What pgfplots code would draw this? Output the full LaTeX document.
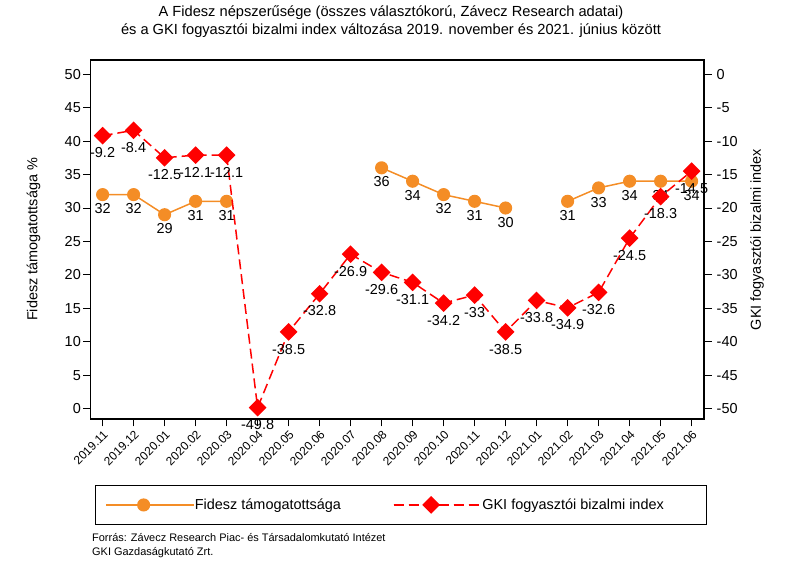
\documentclass[border=0pt]{standalone}
\usepackage{pgfplots}
\usepackage{pgfplotstable}
\pgfplotsset{compat=1.18}
\usepackage{fontspec}
\setmainfont{Liberation Sans}
\definecolor{fidor}{RGB}{244,141,38}
\definecolor{gkired}{RGB}{255,0,0}

\pgfplotstableread{
x y lab
0 32 32
1 32 32
2 29 29
3 31 31
4 31 31
5 nan x
6 nan x
7 nan x
8 nan x
9 36 36
10 34 34
11 32 32
12 31 31
13 30 30
14 nan x
15 31 31
16 33 33
17 34 34
18 34 34
19 34 34
}\fidesz

\pgfplotstableread{
x y lab
0 -9.2 -9.2
1 -8.4 -8.4
2 -12.5 -12.5
3 -12.1 -12.1
4 -12.1 -12.1
5 -49.8 -49.8
6 -38.5 -38.5
7 -32.8 -32.8
8 -26.9 -26.9
9 -29.6 -29.6
10 -31.1 -31.1
11 -34.2 -34.2
12 -33 -33
13 -38.5 -38.5
14 -33.8 -33.8
15 -34.9 -34.9
16 -32.6 -32.6
17 -24.5 -24.5
18 -18.3 -18.3
19 -14.5 -14.5
}\gki

\pgfplotsset{
  longleg/.style={legend image code/.code={
    \path (0bp,0bp) -- (88bp,0bp);
    \draw[##1, mark repeat=2, mark phase=2] plot coordinates {(0bp,0bp) (37.5bp,0bp) (75bp,0bp)};}},
  common/.style={
    at={(90.5bp,162bp)}, anchor=south west,
    scale only axis, width=613.5bp, height=359bp,
    xmin=-0.39, xmax=19.40,
    tick align=outside, major tick length=7.5bp,
    every tick/.style={black, line width=1bp},
    /pgf/number format/assume math mode=true,
    tick label style={font=\fontsize{14.5}{15}\selectfont},
    label style={font=\fontsize{14.5}{15}\selectfont},
    nodes near coords style={font=\fontsize{14.5}{15}\selectfont, black, anchor=north},
    unbounded coords=jump,
  }
}

\begin{document}
\begin{tikzpicture}
\useasboundingbox (0,0) rectangle (800bp,581bp);

\begin{axis}[common,
  ymin=-1.5, ymax=52.1,
  axis line style={line width=1.3bp},
  xtick={0,...,19},
  xticklabels={2019.11,2019.12,2020.01,2020.02,2020.03,2020.04,2020.05,2020.06,2020.07,2020.08,2020.09,2020.10,2020.11,2020.12,2021.01,2021.02,2021.03,2021.04,2021.05,2021.06},
  xticklabel style={rotate=45, anchor=north east, font=\fontsize{12}{12}\selectfont, inner sep=2bp},
  ytick={0,5,...,50}, ytick pos=left, xtick pos=bottom,
  yticklabel style={inner sep=2bp},
  ylabel={Fidesz támogatottsága \%},
  ylabel style={at={(axis description cs:-0.093,0.5)}, anchor=center},
]
\addplot[color=fidor, line width=1.5bp, mark=*, mark size=5.8bp,
  mark options={fill=fidor, draw=fidor, solid},
  nodes near coords, point meta=explicit symbolic,
  every node near coord/.append style={yshift=-5bp}]
  table[x=x, y=y, meta=lab] {\fidesz};
\end{axis}

\begin{axis}[common,
  ymin=-51.5, ymax=2.1,
  axis x line=none,
  axis y line*=right,
  axis line style={line width=1.3bp},
  ytick={0,-5,...,-50},
  yticklabel style={anchor=west, inner sep=2bp, xshift=3bp},
  ylabel={GKI fogyasztói bizalmi index},
  ylabel style={at={(axis description cs:1.0865,0.5)}, anchor=center, rotate=0},
  legend columns=2,
  legend style={at={(axis description cs:0.0073,-0.1838)}, anchor=north west,
    draw=black, line width=0.8bp, inner xsep=10bp, inner ysep=10.5bp,
    column sep=0bp,
    nodes={inner xsep=0bp, inner ysep=3bp, font=\fontsize{14.5}{15}\selectfont}},
]
\addlegendimage{color=fidor, line width=1.5bp, mark=*, mark size=5.8bp,
  mark options={fill=fidor, draw=fidor, solid}, longleg}
\addlegendentry{\makebox[198bp][l]{Fidesz támogatottsága}}
\addplot[color=gkired, line width=1.5bp, dash pattern=on 10bp off 5bp,
  mark=square*, mark size=5.5bp,
  mark options={fill=gkired, draw=gkired, solid, rotate=45},
  nodes near coords, point meta=explicit symbolic,
  every node near coord/.append style={yshift=-8bp}, longleg]
  table[x=x, y=y, meta=lab] {\gki};
\addlegendentry{\makebox[214bp][l]{GKI fogyasztói bizalmi index}}
\end{axis}

\node[anchor=center, align=center, font=\fontsize{14.7}{18}\selectfont] at (391bp,559.5bp)
  {A Fidesz népszerűsége (összes választókorú, Závecz Research adatai)\\és a GKI fogyasztói bizalmi index változása 2019. november és 2021. június között};
\node[anchor=north west, align=left, inner sep=0pt, font=\fontsize{11}{14}\selectfont] at (92bp,48bp)
  {Forrás: Závecz Research Piac- és Társadalomkutató Intézet\\GKI Gazdaságkutató Zrt.};
\end{tikzpicture}
\end{document}
